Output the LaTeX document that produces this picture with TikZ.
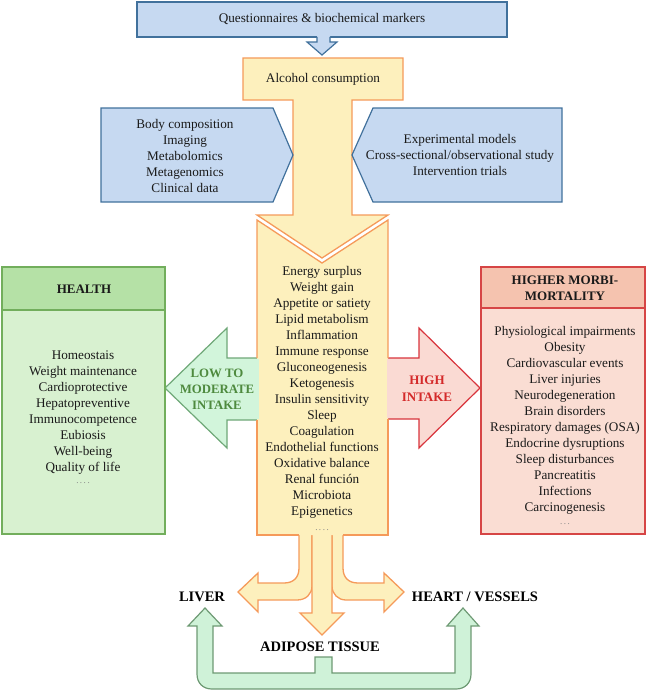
\documentclass[tikz,border=0pt]{standalone}
\usepackage{fontspec}
\setmainfont{Liberation Serif}
\definecolor{bluef}{HTML}{C6D9F1}
\definecolor{blued}{HTML}{41719C}
\definecolor{yelf}{HTML}{FDF0BD}
\definecolor{orad}{HTML}{F59A5A}
\definecolor{grnf}{HTML}{D8F1D0}
\definecolor{grnh}{HTML}{B5E1A6}
\definecolor{grnd}{HTML}{72AE5C}
\definecolor{redf}{HTML}{FADDD3}
\definecolor{redh}{HTML}{F5C3AF}
\definecolor{redd}{HTML}{D64545}
\definecolor{arrgf}{HTML}{D2F5DB}
\definecolor{arrgd}{HTML}{6FA878}
\definecolor{ugf}{HTML}{CFF2D8}
\definecolor{ugd}{HTML}{6E9A74}
\definecolor{arrrf}{HTML}{FADAD3}
\definecolor{arrrd}{HTML}{D8343C}
\definecolor{textc}{HTML}{1A1A1A}
\definecolor{lowc}{HTML}{4E8A3E}
\definecolor{highc}{HTML}{D42A2A}
\begin{document}
\begin{tikzpicture}[x=1pt,y=-1pt,
  txt/.style={align=center, inner sep=0pt, text=textc, font=\fontsize{13.2}{16}\selectfont},
  hdr/.style={align=center, inner sep=0pt, text=textc, font=\fontsize{13}{16}\selectfont\bfseries},
  lbl/.style={align=center, inner sep=0pt, text=black, font=\fontsize{14.5}{17}\selectfont\bfseries},
  dotsty/.style={inner sep=0pt, text=textc!55, font=\fontsize{9}{10}\selectfont},
  bluebox/.style={fill=bluef, draw=blued, line width=1.2pt, line join=miter},
  yelshape/.style={fill=yelf, draw=orad, line width=1.3pt, line join=miter},
  oline/.style={draw=orad, line width=1.3pt, line join=miter},
  lowarr/.style={fill=arrgf, draw=arrgd, line width=1.2pt, line join=miter},
  higharr/.style={fill=arrrf, draw=arrrd, line width=1.2pt, line join=miter},
  uarr/.style={fill=ugf, draw=ugd, line width=1.2pt, line join=miter}
]
\useasboundingbox (0,0) rectangle (646,693);

% top blue box and small arrow
\draw[bluebox] (137,2) rectangle (507,37);
\node[txt] (quest) at (322,19) {Questionnaires \& biochemical markers};
\fill[bluef] (317,36) -- (317,42) -- (307,42) -- (322,55) -- (337,42) -- (330,42) -- (330,36) -- cycle;
\draw[blued, line width=1.2pt, line join=miter] (317,37) -- (317,42) -- (307,42) -- (322,55) -- (337,42) -- (330,42) -- (330,37);

% alcohol consumption T-arrow
\draw[yelshape] (243,58) -- (403,58) -- (403,100) -- (352,100) -- (352,215) -- (388,215)
  -- (322,258) -- (257,215) -- (293,215) -- (293,100) -- (243,100) -- cycle;
\node[txt] (alc) at (323,79) {Alcohol consumption};

% pentagons
\draw[bluebox] (101,108) -- (273,108) -- (293,155) -- (273,202) -- (101,202) -- cycle;
\node[txt] (methods) at (185,156) {Body composition\\Imaging\\Metabolomics\\Metagenomics\\Clinical data};
\draw[bluebox] (562,108) -- (373,108) -- (352,155) -- (373,202) -- (562,202) -- cycle;
\node[txt] (studies) at (460,155) {Experimental models\\Cross-sectional/observational study\\Intervention trials};

% bottom branches
\draw[yelshape] (299,534) -- (299,568) .. controls (299,578) and (293,583) .. (284,583) -- (258,583)
  -- (258,573) -- (238,592) -- (258,612) -- (258,600) -- (297,600)
  .. controls (306,600) and (312,594) .. (312,586) -- (312,534);
\draw[yelshape] (343,534) -- (343,568) .. controls (343,578) and (349,583) .. (358,583) -- (384,583)
  -- (384,573) -- (404,592) -- (384,612) -- (384,600) -- (346,600)
  .. controls (338,600) and (332,594) .. (332,586) -- (332,534);
\draw[yelshape] (312,534) -- (312,613) -- (300,613) -- (322,635) -- (344,613) -- (332,613) -- (332,534);

% side arrows
\draw[lowarr] (258,358) -- (227,358) -- (227,328) -- (165,388) -- (227,448) -- (227,420) -- (258,420);
\draw[higharr] (387,358) -- (419,358) -- (419,328) -- (480,388) -- (419,448) -- (419,419) -- (387,419);

% central box
\fill[yelf] (257,220) -- (322,263) -- (388,220) -- (388,535) -- (257,535) -- cycle;
\fill[arrgf] (255,359) rectangle (258.5,419.3);
\fill[arrrf] (386.5,359) rectangle (390,418.3);
\draw[oline] (299,535) -- (257,535) -- (257,420);
\draw[oline] (257,358) -- (257,220) -- (322,263) -- (388,220) -- (388,358);
\draw[oline] (388,419) -- (388,535) -- (343,535);
\node[txt] (mech) at (322,392) {Energy surplus\\Weight gain\\Appetite or satiety\\Lipid metabolism\\Inflammation\\Immune response\\Gluconeogenesis\\Ketogenesis\\Insulin sensitivity\\Sleep\\Coagulation\\Endothelial functions\\Oxidative balance\\Renal función\\Microbiota\\Epigenetics};
\node[dotsty] (mdots) at (322,530) {.\,.\,.\,.};

\node[align=center, inner sep=0pt, text=lowc, font=\fontsize{12.8}{16}\selectfont\bfseries] (low) at (217,389) {LOW TO\\MODERATE\\INTAKE};
\node[align=center, inner sep=0pt, text=highc, font=\fontsize{13}{17}\selectfont\bfseries] (high) at (427,389) {HIGH\\INTAKE};

% HEALTH box
\draw[fill=grnf, draw=grnd, line width=1.2pt] (2,267) rectangle (165,534);
\draw[fill=grnh, draw=grnd, line width=1.2pt] (2,267) rectangle (165,310);
\node[hdr] (health) at (84,289) {HEALTH};
\node[txt] (hitems) at (83,413) {Homeostais\\Weight maintenance\\Cardioprotective\\Hepatopreventive\\Immunocompetence\\Eubiosis\\Well-being\\Quality of life};
\node[dotsty] (hdots) at (83,483) {.\,.\,.\,.};

% MORBI-MORTALITY box
\draw[fill=redf, draw=redd, line width=1.2pt] (481,267) rectangle (645,534);
\draw[fill=redh, draw=redd, line width=1.2pt] (481,267) rectangle (645,308);
\node[hdr] (morb) at (565,288) {HIGHER MORBI-\\MORTALITY};
\node[txt] (ritems) at (565,420) {Physiological impairments\\Obesity\\Cardiovascular events\\Liver injuries\\Neurodegeneration\\Brain disorders\\Respiratory damages (OSA)\\Endocrine dysruptions\\Sleep disturbances\\Pancreatitis\\Infections\\Carcinogenesis};
\node[dotsty] (rdots) at (565,524) {.\,.\,.};

% organ labels
\node[lbl] (liver) at (202,597) {LIVER};
\node[lbl] (heart) at (475,597) {HEART / VESSELS};
\node[lbl] (adipose) at (320,647) {ADIPOSE TISSUE};

% bottom green U arrow
\draw[uarr] (315,657) -- (315,673) -- (213,673) -- (213,626) -- (222,626) -- (205,608) -- (188,626)
  -- (197,626) -- (197,674) .. controls (197,683) and (203,689) .. (212,689) -- (456,689)
  .. controls (465,689) and (471,683) .. (471,674) -- (471,626) -- (479,626) -- (463,608)
  -- (447,626) -- (455,626) -- (455,673) -- (332,673) -- (332,657) -- cycle;
\end{tikzpicture}
\end{document}
